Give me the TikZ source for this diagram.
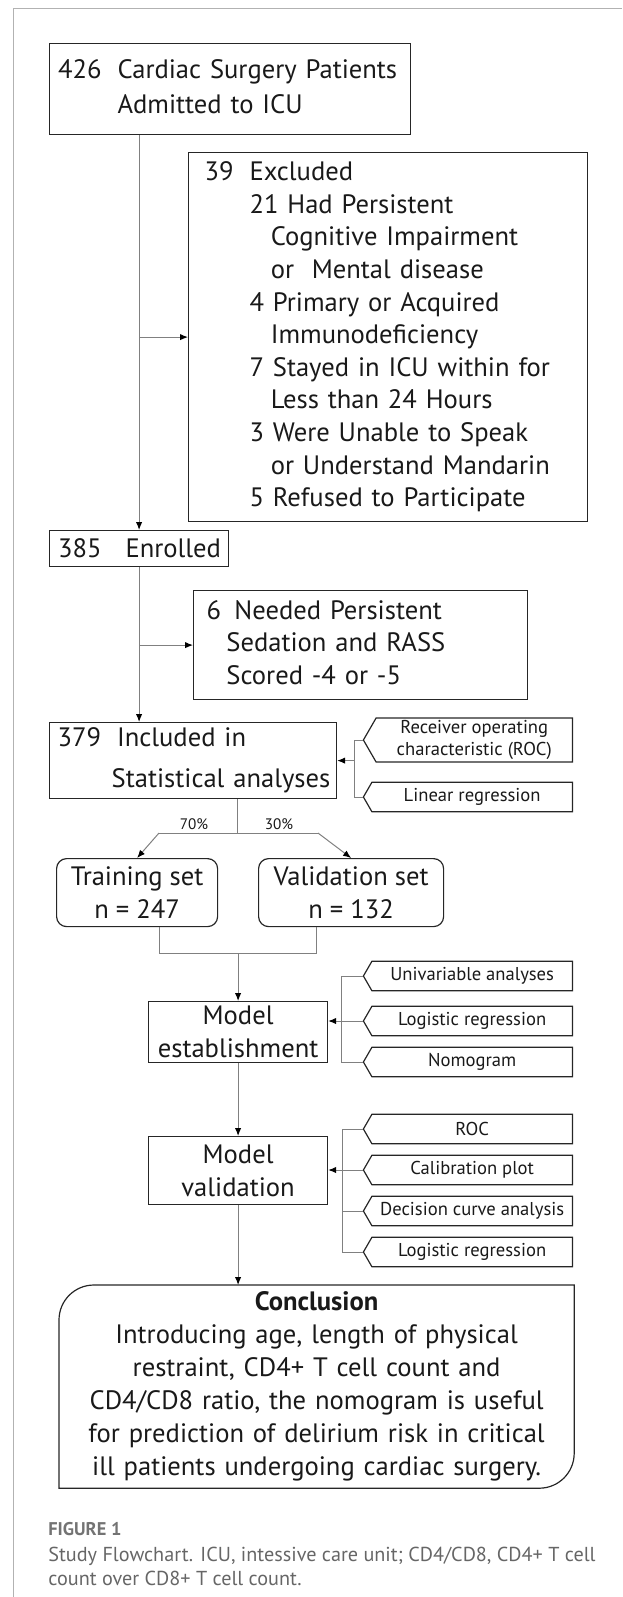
\documentclass[tikz,border=0pt]{standalone}
\usepackage{fontspec}
\setmainfont{PT Sans}
\usetikzlibrary{arrows.meta,shapes.symbols}

\newcommand{\mainfs}{\fontsize{13.3}{16.3}\selectfont}
\newcommand{\tagfs}{\fontsize{9.3}{11}\selectfont}
\newcommand{\pctfs}{\fontsize{7.6}{9}\selectfont}

\tikzset{
  box/.style={draw=black!85, line width=0.6pt, inner ysep=0pt, font=\mainfs, text=black!90},
  lbox/.style={box, anchor=north west, align=left},
  rbox/.style={box, anchor=north west, align=center, inner xsep=0pt},
  tagbox/.style={signal, signal to=west, signal pointer angle=120, draw=black!85,
    line width=0.6pt, font=\tagfs, text=black!90, align=center, inner sep=1pt,
    minimum width=104.5pt, minimum height=14.75pt, anchor=east},
  line/.style={draw=black!50, line width=0.5pt},
  conn/.style={line, -{Latex[length=4pt,width=3.2pt,color=black]}},
}

\begin{document}
\begin{tikzpicture}[x=0.5pt, y=-0.5pt]
  \useasboundingbox (0,0) rectangle (622,1597);
  % page frame
  \draw[black!30, line width=0.5pt] (13,1597) -- (13,8) -- (622,8);

  % Screening and enrolment
  \node[lbox, minimum height=45.5pt, text width=172pt, inner xsep=4.25pt] (start) at (49,43)
    {\begin{tabular}{@{}l@{\hspace{0.6em}}l@{}}426 & Cardiac Surgery Patients\\[1.2pt] & Admitted to ICU\end{tabular}};
  \node[lbox, minimum height=184.5pt, text width=183.5pt, inner xsep=8pt] (excl) at (188,152)
    {\begin{tabular}{@{}l@{\hspace{0.6em}}l@{}}
      39 & Excluded\\
         & 21 Had Persistent\\
         & \hspace*{0.8em}Cognitive Impairment\\
         & \hspace*{0.8em}or\ \ Mental disease\\
         & 4 Primary or Acquired\\
         & \hspace*{0.8em}Immunodeficiency\\
         & 7 Stayed in ICU within for\\
         & \hspace*{0.8em}Less than 24 Hours\\
         & 3 Were Unable to Speak\\
         & \hspace*{0.8em}or Understand Mandarin\\
         & 5 Refused to Participate
    \end{tabular}};
  \node[lbox, minimum height=18pt, text width=81pt, inner xsep=4.25pt] (enrol) at (49,530) {\mbox{385\hspace{0.9em}Enrolled}};
  \node[lbox, minimum height=54.5pt, text width=154pt, inner xsep=6.5pt] (sedat) at (193,590)
    {\begin{tabular}{@{}l@{\hspace{0.5em}}l@{}}6 & Needed Persistent\\ & \hspace*{-0.3em}Sedation and RASS\\ & \hspace*{-0.3em}Scored -4 or -5\end{tabular}};
  \node[lbox, minimum height=38pt, text width=135.5pt, inner xsep=4pt] (incl) at (49,722)
    {\begin{tabular}{@{}l@{\hspace{0.6em}}l@{}}379 & Included in\\[4pt] & \hspace*{-0.2em}Statistical analyses\end{tabular}};

  % Data split
  \node[rbox, rounded corners=5pt, minimum width=80.5pt, minimum height=34pt] (train) at (56,858) {Training set\\n = 247};
  \node[rbox, rounded corners=5pt, minimum width=92.5pt, minimum height=34pt] (valid) at (258,858) {Validation set\\n = 132};
  \node[font=\pctfs, text=black!90, inner sep=0pt] (p70) at (194,824) {70\%};
  \node[font=\pctfs, text=black!90, inner sep=0pt] (p30) at (279,824) {30\%};

  % Model
  \node[rbox, minimum width=89.5pt, minimum height=30.5pt] (est) at (148,1001) {Model\\establishment};
  \node[rbox, minimum width=89.5pt, minimum height=34pt] (valm) at (148,1136) {Model\\validation};
  \node[box, draw=none, anchor=north west, minimum width=257pt, minimum height=101pt, text width=250pt,
    inner xsep=3.5pt, align=center, font=\fontsize{13.3}{16.5}\selectfont] (concl) at (59,1285)
    {\textbf{Conclusion}\\Introducing age, length of physical\\restraint, CD4+ T cell count and\\CD4/CD8 ratio, the nomogram is useful\\for prediction of delirium risk in critical\\ill patients undergoing cardiac surgery.};
  \draw[draw=black!85, line width=0.6pt] (concl.north east) -- ([yshift=17.5pt]concl.south east)
    .. controls ([yshift=7.8pt]concl.south east) and ([xshift=-7.8pt]concl.south east) .. ([xshift=-17.5pt]concl.south east)
    -- (concl.south west) -- ([yshift=-17.5pt]concl.north west)
    .. controls ([yshift=-7.8pt]concl.north west) and ([xshift=7.8pt]concl.north west) .. ([xshift=17.5pt]concl.north west)
    -- cycle;

  % Methods tags
  \node[tagbox, minimum height=22pt] (roc1) at (573,740) {Receiver operating\\characteristic (ROC)};
  \node[tagbox] (lin) at (573,797) {Linear regression};
  \node[tagbox] (uni) at (573,976) {Univariable analyses};
  \node[tagbox] (logi) at (573,1021) {Logistic regression};
  \node[tagbox] (nomo) at (573,1062) {Nomogram};
  \node[tagbox] (roc2) at (573,1129) {ROC};
  \node[tagbox] (cal) at (573,1170) {Calibration plot};
  \node[tagbox] (dca) at (573,1211) {Decision curve analysis};
  \node[tagbox] (logi2) at (573,1252) {Logistic regression};

  % Caption
  \node[anchor=west, inner sep=0pt, font=\fontsize{9.2}{11}\selectfont\bfseries, text=black!55] (fig) at (48,1529) {FIGURE 1};
  \node[anchor=north west, inner sep=0pt, align=left, font=\fontsize{10.1}{12}\selectfont, text=black!60] (capt) at (48,1547)
    {Study Flowchart. ICU, intessive care unit; CD4/CD8, CD4+ T cell\\count over CD8+ T cell count.};

  % Connectors
  \coordinate (split) at (237.5,833);
  \coordinate (sl) at (159,833);
  \coordinate (sr) at (318,833);
  \coordinate (jl) at (159,953);
  \coordinate (jr) at (316,953);
  \coordinate (b1) at (354,760);
  \coordinate (b2) at (341,1021);
  \coordinate (b3) at (342,1170);

  \draw[conn] (start.south -| enrol.north) -- (enrol.north);
  \draw[conn] (excl.west -| enrol.north) -- (excl.west);
  \draw[conn] (enrol.south) -- (enrol.south |- incl.north);
  \draw[conn] (sedat.west -| enrol.south) -- (sedat.west);

  \draw[line] (split |- incl.south) -- (split);
  \draw[line] (sl) -- (sr);
  \draw[conn] (sl) -- (train.north);
  \draw[conn] (sr) -- (valid.north);
  \draw[line] (train.south -| jl) -- (jl) -- (jr) -- (valid.south -| jr);
  \draw[conn] (jl -| est.north) -- (est.north);
  \draw[conn] (est.south) -- (valm.north);
  \draw[conn] (valm.south) -- (valm.south |- concl.north);

  \draw[line] (roc1.west) -- (roc1.west -| b1) -- (lin.west -| b1) -- (lin.west);
  \draw[conn] (incl.east -| b1) -- (incl.east);
  \draw[line] (uni.west) -- (uni.west -| b2) -- (nomo.west -| b2) -- (nomo.west);
  \draw[conn] (logi.west) -- (logi.west -| est.east);
  \draw[line] (roc2.west) -- (roc2.west -| b3) -- (logi2.west -| b3) -- (logi2.west);
  \draw[line] (dca.west -| b3) -- (dca.west);
  \draw[conn] (cal.west) -- (cal.west -| valm.east);
\end{tikzpicture}
\end{document}
